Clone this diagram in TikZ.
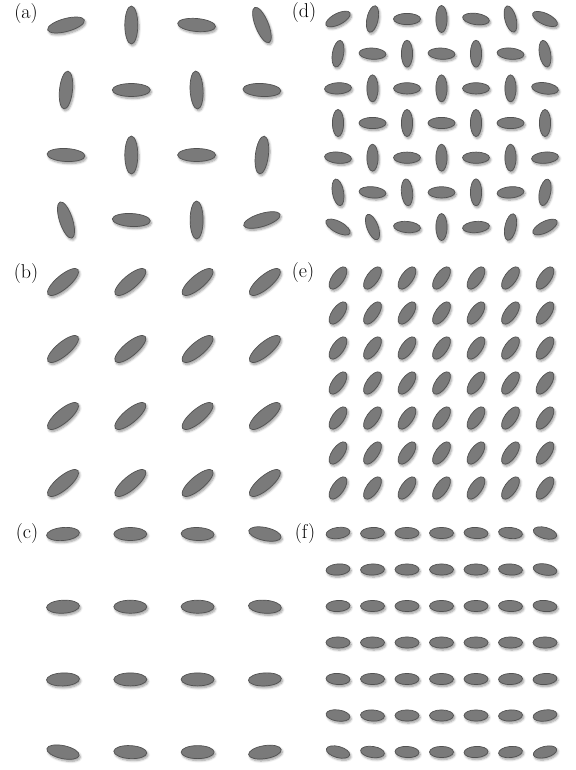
\documentclass[tikz,border=0pt]{standalone}
\usetikzlibrary{shadows.blur}
\definecolor{grainfill}{HTML}{7A7A7A}
\definecolor{grainedge}{HTML}{525252}
\tikzset{
  grain/.style={fill=grainfill, draw=grainedge, line width=0.7pt,
    blur shadow={shadow xshift=1.3pt, shadow yshift=-2pt, shadow blur steps=6,
      shadow blur radius=2.2pt, shadow opacity=40}},
  lbl/.style={inner sep=0pt, font=\fontsize{20}{20}\selectfont}
}
% #1 x0, #2 dx, #3 y0, #4 dy, #5 semi-major, #6 semi-minor, #7 rows of angles
\newcommand{\grainpanel}[7]{%
  \foreach \angs [count=\r] in {#7}{%
    \foreach \a [count=\c] in \angs {%
      \path[grain] ({#1+(\c-1)*#2},{#3+(\r-1)*#4})
        circle[x radius=#5pt, y radius=#6pt, rotate=\a];
    }%
  }%
}
\begin{document}
\begin{tikzpicture}[x=1pt,y=-1pt]
\path[use as bounding box] (0,0) rectangle (575,770);
% (a)
\grainpanel{66}{65.3}{25}{65}{19}{6.5}{%
  {15,90,-5,112},{84,0,93,-3},{-3,90,0,83},{108,-3,90,17}}
% (b)
\grainpanel{63}{67.3}{282}{67}{19.5}{6.8}{%
  {40,40,40,40},{40,40,40,40},{40,40,40,40},{40,40,40,40}}
% (c)
\grainpanel{63}{67.3}{534}{72.7}{16.5}{6.5}{%
  {5,0,-2,-12},{3,0,0,-4},{2,0,0,3},{-12,-3,0,9}}
% (d)
\grainpanel{338}{34.5}{19}{34.67}{13.5}{5.6}{%
  {27,78,0,90,-8,105,-25},
  {80,-3,90,-3,90,-5,100},
  {3,90,0,90,0,90,-8},
  {90,0,90,0,90,0,90},
  {-5,90,0,90,0,90,5},
  {100,-5,95,0,90,5,78},
  {-28,111,-5,90,5,78,27}}
% (e)
\grainpanel{338}{34.5}{278}{35}{13}{6}{%
  {55,55,55,55,55,55,55},{55,55,55,55,55,55,55},{55,55,55,55,55,55,55},
  {55,55,55,55,55,55,55},{55,55,55,55,55,55,55},{55,55,55,55,55,55,55},
  {55,55,55,55,55,55,55}}
% (f)
\grainpanel{338}{34.5}{533}{36.5}{12}{5.6}{%
  {8,3,0,0,-3,-6,-15},
  {5,2,0,0,0,-3,-10},
  {3,0,0,0,0,-2,-5},
  {0,0,0,0,0,0,0},
  {-3,0,0,0,0,2,4},
  {-8,-3,0,0,0,3,8},
  {-15,-8,-3,0,3,6,14}}
% labels
\node[lbl] (la) at (26,13.5) {(a)};
\node[lbl] (lb) at (26,274) {(b)};
\node[lbl] (lc) at (27,534) {(c)};
\node[lbl] (ld) at (304,12.5) {(d)};
\node[lbl] (le) at (303,273) {(e)};
\node[lbl] (lf) at (305,534) {(f)};
\end{tikzpicture}
\end{document}
